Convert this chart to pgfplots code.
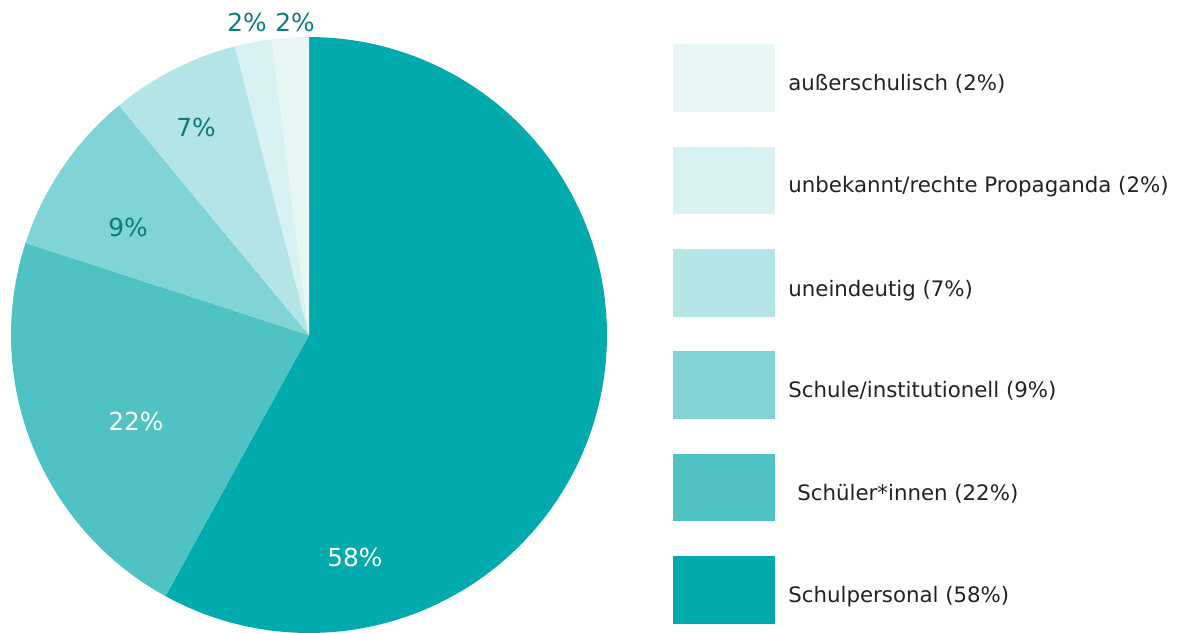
\documentclass[border=0pt]{standalone}
\usepackage{fontspec}
\setmainfont{DejaVu Sans}
\usepackage{pgfplots}
\pgfplotsset{compat=1.18}
\definecolor{c1}{HTML}{00AAAD}
\definecolor{c2}{HTML}{4FC2C4}
\definecolor{c3}{HTML}{80D4D6}
\definecolor{c4}{HTML}{B3E5E6}
\definecolor{c5}{HTML}{D8F1F2}
\definecolor{c6}{HTML}{E8F6F6}
\definecolor{lab}{HTML}{0B7C7E}
\definecolor{txt}{HTML}{222222}
\tikzset{plab/.style={font=\fontsize{12.4}{14}\selectfont},
         ltxt/.style={txt, anchor=west, inner sep=0pt, font=\fontsize{10.65}{13}\selectfont}}
% shares in percent
\def\vA{58}\def\vB{22}\def\vC{9}\def\vD{7}\def\vE{2}\def\vF{2}
\begin{document}
\begin{tikzpicture}
\begin{axis}[
  name=ax,
  scale only axis, width=589pt, height=316pt,
  xmin=0, xmax=1178, ymin=0, ymax=632,
  hide axis, clip=true,
]
% pie: centre (309,297), radius 298, clockwise from 12 o'clock
\pgfmathsetmacro{\aA}{90-3.6*\vA}
\pgfmathsetmacro{\aB}{\aA-3.6*\vB}
\pgfmathsetmacro{\aC}{\aB-3.6*\vC}
\pgfmathsetmacro{\aD}{\aC-3.6*\vD}
\pgfmathsetmacro{\aE}{\aD-3.6*\vE}
\pgfmathsetmacro{\aF}{\aE-3.6*\vF}
\addplot[fill=c1, draw=none, domain=\aA:90, samples=120, variable=\t] ({309+298*cos(t)},{297+298*sin(t)}) -- (axis cs:309,297) -- cycle;
\addplot[fill=c2, draw=none, domain=\aB:\aA, samples=60, variable=\t] ({309+298*cos(t)},{297+298*sin(t)}) -- (axis cs:309,297) -- cycle;
\addplot[fill=c3, draw=none, domain=\aC:\aB, samples=30, variable=\t] ({309+298*cos(t)},{297+298*sin(t)}) -- (axis cs:309,297) -- cycle;
\addplot[fill=c4, draw=none, domain=\aD:\aC, samples=30, variable=\t] ({309+298*cos(t)},{297+298*sin(t)}) -- (axis cs:309,297) -- cycle;
\addplot[fill=c5, draw=none, domain=\aE:\aD, samples=10, variable=\t] ({309+298*cos(t)},{297+298*sin(t)}) -- (axis cs:309,297) -- cycle;
\addplot[fill=c6, draw=none, domain=\aF:\aE, samples=10, variable=\t] ({309+298*cos(t)},{297+298*sin(t)}) -- (axis cs:309,297) -- cycle;
% slice labels
\node[white, plab] at (axis cs:355,75) {58\%};
\node[white, plab] at (axis cs:136,211) {22\%};
\node[lab, plab] at (axis cs:128,405) {9\%};
\node[lab, plab] at (axis cs:196,505) {7\%};
\node[lab, plab] at (axis cs:247,610) {2\%};
\node[lab, plab] at (axis cs:295,610) {2\%};
% legend boxes
\addplot[fill=c6, draw=none] coordinates {(673,588) (775,588) (775,520) (673,520)} -- cycle;
\addplot[fill=c5, draw=none] coordinates {(673,485) (775,485) (775,418) (673,418)} -- cycle;
\addplot[fill=c4, draw=none] coordinates {(673,383) (775,383) (775,315) (673,315)} -- cycle;
\addplot[fill=c3, draw=none] coordinates {(673,281) (775,281) (775,213) (673,213)} -- cycle;
\addplot[fill=c2, draw=none] coordinates {(673,178) (775,178) (775,111) (673,111)} -- cycle;
\addplot[fill=c1, draw=none] coordinates {(673,76) (775,76) (775,8) (673,8)} -- cycle;
\node[ltxt] at (axis cs:788,548) {außerschulisch (2\%)};
\node[ltxt] at (axis cs:788,445) {unbekannt/rechte Propaganda (2\%)};
\node[ltxt] at (axis cs:788,341) {uneindeutig (7\%)};
\node[ltxt] at (axis cs:788,241) {Schule/institutionell (9\%)};
\node[ltxt] at (axis cs:797,138) {Schüler*innen (22\%)};
\node[ltxt] at (axis cs:788,35) {Schulpersonal (58\%)};
\end{axis}
\pgfresetboundingbox
\path (ax.south west) rectangle (ax.north east);
\end{tikzpicture}
\end{document}
